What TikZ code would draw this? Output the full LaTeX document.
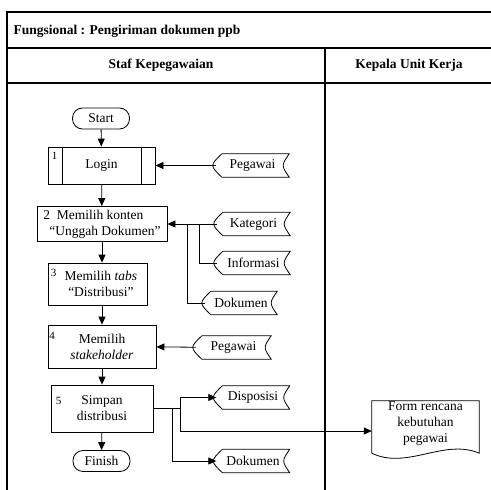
\documentclass[tikz,border=0pt]{standalone}
\usepackage{fontspec}
\setmainfont{Liberation Serif}
\usetikzlibrary{arrows.meta}

\begin{document}
\begin{tikzpicture}[x=1pt,y=-1pt,
    font=\fontsize{13.5}{16}\selectfont,
    garis/.style={line width=0.8pt},
    bingkai/.style={line width=1.2pt},
    panah/.style={line width=0.8pt, -{Triangle[length=8pt,width=7pt]}},
    proses/.style={draw, line width=0.8pt, align=center, inner sep=0pt},
    term/.style={draw, line width=0.8pt, rounded corners=10pt,
        minimum width=57pt, minimum height=21pt, inner sep=0pt},
    simpan/.style={minimum width=73pt, minimum height=23pt, inner sep=0pt},
    nomor/.style={anchor=north west, inner sep=0pt, font=\fontsize{11}{12}\selectfont}]

    \useasboundingbox (0,0) rectangle (491,490);

        %%frame
        \draw[bingkai] (491,12) -- (7,12) -- (7,490);
        \draw[bingkai] (7,48) -- (491,48);
        \draw[bingkai] (7,83) -- (491,83);
        \draw[bingkai] (325,48) -- (325,490);
            \node[anchor=west, font=\fontsize{13.5}{16}\selectfont\bfseries] (judul) at (10,31) {Fungsional : Pengiriman dokumen ppb};
            \node[font=\fontsize{13.5}{16}\selectfont\bfseries] (staf) at (161,65.5) {Staf Kepegawaian};
            \node[font=\fontsize{13.5}{16}\selectfont\bfseries] (kepala) at (409,65.5) {Kepala Unit Kerja};

        %%proses
        \node[term] (start) at (101,118.5) {Start};
        \node[proses, minimum width=107pt, minimum height=37pt] (login) at (101.5,165.5) {Login};
            \draw[garis] ([xshift=15pt]login.north west) -- ([xshift=15pt]login.south west);
            \draw[garis] ([xshift=-14pt]login.north east) -- ([xshift=-14pt]login.south east);
            \node[nomor] (n1) at ([xshift=4pt,yshift=-5.5pt]login.north west) {1};
        \node[proses, align=left, minimum width=130pt, minimum height=35pt] (konten) at (102,224) {2~~Memilih konten\\\hspace*{6pt}“Unggah Dokumen”};
        \node[proses, minimum width=99pt, minimum height=42pt] (tabs) at (97.5,284) {~~Memilih \textit{tabs}\\~~“Distribusi”};
            \node[nomor] (n3) at ([xshift=3pt,yshift=-6pt]tabs.north west) {3};
        \node[proses, minimum width=108pt, minimum height=43pt] (stake) at (102,346.5) {Memilih\\\textit{stakeholder}};
            \node[nomor] (n4) at ([xshift=1.5pt,yshift=-7pt]stake.north west) {4};
        \node[proses, minimum width=102pt, minimum height=47pt] (distri) at (102,408.5) {Simpan\\distribusi};
            \node[nomor] (n5) at ([xshift=5pt,yshift=-12pt]distri.north west) {5};
        \node[term] (finish) at (101.5,461) {Finish};

            \draw[panah] (start) -- (login);
            \draw[panah] (login) -- (konten);
            \draw[panah] (konten.south) -- (konten.south |- tabs.north);
            \draw[panah] (konten.south |- tabs.south) -- (stake.north);
            \draw[panah] (stake) -- (distri);
            \draw[panah] (distri) -- (finish);

        %%data
        \node[simpan] (pega) at (252.5,165.5) {Pegawai};
        \node[simpan] (kat) at (253.5,224) {Kategori};
        \node[simpan] (info) at (253.5,263) {Informasi};
        \node[simpan, minimum width=72pt] (dok) at (241,303) {Dokumen};
        \node[simpan, minimum width=75pt] (pegb) at (233.5,347.5) {Pegawai};
        \node[simpan] (disp) at (253,397.5) {Disposisi};
        \node[simpan] (dokb) at (253,461) {Dokumen};
        \foreach \s in {pega,kat,info,dok,pegb,disp,dokb}
            \draw[garis] ([xshift=6pt]\s.north west) -- (\s.north east)
                .. controls ([xshift=-8pt]\s.east) .. (\s.south east)
                -- ([xshift=6pt]\s.south west)
                .. controls ([xshift=-6pt]\s.west) .. ([xshift=6pt]\s.north west);

        %%form
        \node[align=center, minimum width=107pt, minimum height=46pt, inner sep=0pt] (form) at (425.5,424) {Form rencana\\kebutuhan\\pegawai};
            \draw[garis] (form.north west) -- (form.north east) -- ([yshift=-6pt]form.south east)
                .. controls ([xshift=-35pt,yshift=9pt]form.south east) and ([xshift=35pt,yshift=-23pt]form.south west) .. ([yshift=-6pt]form.south west) -- cycle;

        %%masukan
        \coordinate (j1) at (199,224);
        \coordinate (j2) at (187,224);
        \coordinate (k1) at (172,408.5);
        \coordinate (k2) at (180,408.5);
            \draw[panah] (pega) -- (login);
            \draw[panah] (kat) -- (konten);
            \draw[garis] (info.west) -| (j1);
            \draw[garis] (dok.west) -| (j2);
            \draw[panah] (pegb) -- (stake);

        %%keluaran
            \draw[panah] (distri.east) -- (k2) |- (disp.west);
            \draw[panah] (distri.east) -- (k1) |- (dokb.west);
            \draw[panah] (k2) |- ([yshift=-7pt]form.west);
\end{tikzpicture}
\end{document}
